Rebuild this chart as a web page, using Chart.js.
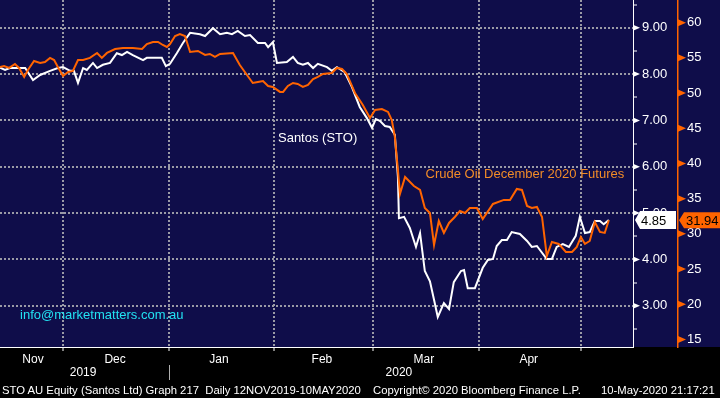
<!DOCTYPE html>
<html>
<head>
<meta charset="utf-8">
<title>STO vs Crude Oil Dec 2020</title>
<script src="https://cdn.jsdelivr.net/npm/chart.js@4.4.1/dist/chart.umd.min.js"></script>
<style>
  body { margin: 0; background: #000; }
  #wrap { position: relative; width: 720px; height: 398px; overflow: hidden; }
  #foot { position: absolute; left: 0; top: 383px; width: 720px; height: 15px; font: 11.3px 'Liberation Sans', Arial, sans-serif; line-height: 14px; color: #fff; white-space: pre; }
  #foot span { position: absolute; top: 0; }
</style>
</head>
<body>
<div id="wrap">
  <canvas id="sto_chart" width="720" height="398"></canvas>
  <div id="foot"><span style="left:2px">STO AU Equity (Santos Ltd) Graph 217  Daily 12NOV2019-10MAY2020</span><span style="left:373px">Copyright© 2020 Bloomberg Finance L.P.</span><span style="left:601px">10-May-2020 21:17:21</span></div>
</div>
<script>
// x값 = 2019-11-12 기준 경과일
const stoDays = [
  0.5, 2.0, 3.4, 6.4, 7.9, 10.2, 12.3, 15.2, 17.5, 19.0,
  21.1, 22.2, 23.4, 24.9, 26.0, 27.8, 29.0, 30.7, 32.8, 34.8,
  36.3, 37.8, 39.5, 42.5, 43.6, 48.0, 49.2, 50.4, 52.4, 54.2,
  56.3, 59.2, 60.7, 63.0, 65.1, 67.1, 68.6, 70.3, 72.4, 73.9,
  76.2, 78.3, 79.2, 80.6, 81.8, 84.7, 86.5, 87.9, 89.4, 90.9,
  92.4, 93.8, 96.5, 97.9, 99.4, 101.7, 103.8, 106.1, 108.2, 109.7,
  110.8, 112.0, 113.5, 114.9, 116.4, 117.3, 117.6, 119.1, 120.8, 122.6,
  123.8, 125.2, 126.7, 127.9, 129.0, 130.8, 132.3, 133.7, 135.8, 136.7,
  137.8, 139.9, 142.2, 143.7, 145.2, 146.3, 147.8, 149.3, 150.7, 153.1,
  155.2, 156.6, 158.1, 161.0, 162.5, 163.9, 165.7, 167.5, 169.5, 170.7,
  172.2, 173.6, 175.1, 176.6, 177.7, 179.2
];
const stoPrices = [
  8.14, 8.09, 8.13, 8.13, 8.13, 7.87, 7.98, 8.07, 8.13, 8.15,
  8.07, 8.07, 7.81, 8.13, 8.09, 8.24, 8.13, 8.20, 8.24, 8.45,
  8.41, 8.48, 8.41, 8.30, 8.35, 8.35, 8.17, 8.22, 8.45, 8.67,
  8.89, 8.86, 8.82, 8.99, 8.86, 8.89, 8.86, 8.93, 8.82, 8.84,
  8.67, 8.67, 8.58, 8.69, 8.24, 8.26, 8.37, 8.24, 8.20, 8.24,
  8.13, 8.22, 8.15, 8.07, 8.15, 8.04, 7.72, 7.29, 7.05, 6.84,
  7.03, 6.99, 6.88, 6.86, 6.69, 5.78, 4.89, 4.92, 4.68, 4.27,
  4.57, 3.75, 3.53, 3.13, 2.76, 3.06, 2.93, 3.51, 3.75, 3.77,
  3.38, 3.38, 3.82, 3.99, 4.01, 4.29, 4.42, 4.42, 4.59, 4.55,
  4.40, 4.27, 4.29, 4.01, 4.01, 4.27, 4.33, 4.27, 4.51, 4.92,
  4.57, 4.59, 4.83, 4.83, 4.76, 4.85
];
const oilDays = [
  0.5, 1.7, 3.2, 4.9, 6.1, 7.6, 8.7, 10.5, 12.3, 13.7,
  15.2, 16.4, 17.5, 19.0, 20.5, 21.9, 23.4, 24.9, 26.9, 29.0,
  30.4, 31.9, 34.3, 36.6, 39.5, 42.2, 43.6, 45.4, 46.9, 48.3,
  49.5, 50.4, 51.9, 53.3, 54.8, 56.3, 58.6, 60.7, 62.1, 63.6,
  65.1, 68.9, 70.9, 73.0, 74.7, 76.2, 77.7, 79.2, 80.6, 82.7,
  83.6, 85.0, 86.5, 87.9, 89.4, 90.9, 92.4, 93.8, 95.3, 97.9,
  99.4, 100.9, 102.3, 104.7, 107.0, 109.1, 110.6, 112.6, 114.4, 115.5,
  116.4, 117.3, 117.9, 119.4, 122.0, 123.8, 125.2, 126.7, 127.9, 129.3,
  130.8, 132.3, 134.0, 135.5, 137.0, 138.4, 140.5, 142.2, 145.2, 148.4,
  150.2, 152.2, 153.7, 155.2, 156.6, 158.1, 159.6, 161.0, 162.5, 164.5,
  166.6, 168.4, 169.8, 171.0, 172.2, 173.6, 175.1, 176.6, 178.0, 179.2
];
const oilPrices = [
  53.71, 53.85, 53.57, 54.13, 53.57, 52.29, 53.28, 54.56, 54.28, 54.42,
  54.99, 54.70, 53.71, 52.43, 53.00, 53.14, 54.70, 54.70, 54.99, 55.70,
  54.99, 55.70, 56.26, 56.41, 56.41, 56.26, 56.97, 57.26, 57.26, 56.83,
  56.55, 56.97, 58.11, 58.39, 58.11, 55.84, 55.98, 55.41, 55.55, 55.13,
  55.55, 55.70, 53.99, 52.57, 51.43, 51.58, 51.72, 51.01, 50.87, 50.16,
  50.16, 51.01, 51.43, 51.29, 50.87, 51.15, 52.00, 52.29, 52.71, 52.86,
  53.57, 53.42, 52.71, 50.01, 48.31, 46.46, 47.60, 47.74, 47.32, 46.18,
  43.77, 39.08, 35.67, 38.08, 36.80, 36.24, 33.68, 32.97, 28.42, 31.83,
  30.13, 31.55, 32.40, 33.25, 32.97, 33.68, 33.68, 32.12, 34.25, 34.82,
  34.82, 36.38, 36.24, 33.97, 33.68, 33.82, 32.40, 26.86, 28.85, 28.57,
  27.43, 27.43, 28.14, 29.56, 28.57, 28.99, 31.69, 30.27, 30.13, 31.94
];
const monthNames = ['Nov', 'Dec', 'Jan', 'Feb', 'Mar', 'Apr'];
const monthMids = [10.2, 34.3, 64.8, 95.0, 124.9, 155.7];
const monthStarts = [19, 50, 81, 110, 141, 171];
const yearNames = ['2019', '2020'];
const yearPos = [24.9, 117.6];

const NAVY = '#0f0d4a';
const ORANGE = '#ff6400';
const GREY = '#9a9aa6';
const FONT = "'Liberation Sans', Arial, sans-serif";

const isInt = (v) => Math.abs(v - Math.round(v)) < 1e-6;

// 태그 박스 (마지막 값)
function drawTag(ctx, tip, right, yc, h, fill, text, textX) {
    ctx.beginPath();
    ctx.moveTo(tip, yc);
    ctx.lineTo(tip + 5, yc - h / 2);
    ctx.lineTo(right, yc - h / 2);
    ctx.lineTo(right, yc + h / 2);
    ctx.lineTo(tip + 5, yc + h / 2);
    ctx.closePath();
    ctx.fillStyle = fill;
    ctx.fill();
    ctx.fillStyle = '#000';
    ctx.font = '13px ' + FONT;
    ctx.textAlign = 'left';
    ctx.textBaseline = 'middle';
    ctx.fillText(text, textX, yc + 1);
}

const bbgPlugin = {
    id: 'bbg',
    beforeDraw(chart) {
        const {ctx, chartArea} = chart;
        ctx.save();
        ctx.fillStyle = '#000';
        ctx.fillRect(0, 0, chart.width, chart.height);
        ctx.fillStyle = NAVY;
        ctx.fillRect(0, 0, chart.width, chartArea.bottom);
        ctx.restore();
    },
    afterDraw(chart) {
        const {ctx, chartArea, scales: {x, y, y1}} = chart;
        ctx.save();
        // 축 삼각형
        y.ticks.forEach((t) => {
            if (!isInt(t.value)) return;
            const py = y.getPixelForValue(t.value);
            ctx.fillStyle = '#fff';
            ctx.beginPath();
            ctx.moveTo(y.left, py - 3);
            ctx.lineTo(y.left + 7, py);
            ctx.lineTo(y.left, py + 3);
            ctx.fill();
        });
        y1.ticks.forEach((t) => {
            if (t.value % 5 !== 0) return;
            const py = y1.getPixelForValue(t.value);
            ctx.fillStyle = ORANGE;
            ctx.beginPath();
            ctx.moveTo(y1.left, py - 3.5);
            ctx.lineTo(y1.left + 8, py);
            ctx.lineTo(y1.left, py + 3.5);
            ctx.fill();
        });
        // 마지막 값
        const lastSto = stoPrices[stoPrices.length - 1];
        const lastOil = oilPrices[oilPrices.length - 1];
        drawTag(ctx, y.left + 2, y.right - 2, y.getPixelForValue(lastSto), 18, '#fff', lastSto.toFixed(2), y.left + 8);
        drawTag(ctx, y1.left + 1, chart.width, y1.getPixelForValue(lastOil), 16, ORANGE, lastOil.toFixed(2), y1.left + 8);

        // 연도 라벨
        ctx.font = '12px ' + FONT;
        ctx.fillStyle = '#fff';
        ctx.textAlign = 'center';
        ctx.textBaseline = 'middle';
        yearNames.forEach((n, i) => ctx.fillText(n, x.getPixelForValue(yearPos[i]), chartArea.bottom + 26));
        const sep = Math.round(x.getPixelForValue(monthStarts[1])) + 0.5;
        ctx.strokeStyle = '#b0b0b0';
        ctx.lineWidth = 1;
        ctx.beginPath();
        ctx.moveTo(sep, chartArea.bottom + 18);
        ctx.lineTo(sep, chartArea.bottom + 33);
        ctx.stroke();

        // 차트 안 라벨
        ctx.font = '13px ' + FONT;
        ctx.textAlign = 'left';
        ctx.fillStyle = '#fff';
        ctx.fillText('Santos (STO)', x.getPixelForValue(82.1), y.getPixelForValue(6.62));
        ctx.fillStyle = '#f28c28';
        ctx.fillText('Crude Oil December 2020 Futures', x.getPixelForValue(125.4), y1.getPixelForValue(38.5));
        ctx.fillStyle = '#22e2f2';
        ctx.fillText('info@marketmatters.com.au', x.getPixelForValue(6.4), y.getPixelForValue(2.79));
        ctx.restore();
    }
};

const ctx = document.getElementById('sto_chart');
const myChart = new Chart(ctx, {
    type: 'line',
    data: {
        datasets: [{
            label: 'Crude Oil December 2020 Futures',
            data: oilDays.map((d, i) => ({x: d, y: oilPrices[i]})),
            yAxisID: 'y1',
            borderColor: ORANGE,
            borderWidth: 2,
            pointRadius: 0,
            tension: 0,
            order: 0
        }, {
            label: 'Santos (STO)',
            data: stoDays.map((d, i) => ({x: d, y: stoPrices[i]})),
            yAxisID: 'y',
            borderColor: '#ffffff',
            borderWidth: 2,
            pointRadius: 0,
            tension: 0,
            order: 1
        }]
    },
    options: {
        responsive: false,
        animation: false,
        devicePixelRatio: 1,
        layout: {padding: 0},
        plugins: {legend: {display: false}, tooltip: {enabled: false}},
        scales: {
            x: {
                type: 'linear',
                position: 'bottom',
                min: 0.51,
                max: 186.3,
                afterBuildTicks: (s) => {
                    s.ticks = monthStarts.concat(monthMids).sort((a, b) => a - b).map((v) => ({value: v}));
                },
                afterFit: (s) => { s.height = 51; s.paddingLeft = 0; s.paddingRight = 0; },
                ticks: {
                    autoSkip: false,
                    maxRotation: 0,
                    padding: 1,
                    color: '#fff',
                    font: {family: FONT, size: 12},
                    callback: (v) => {
                        const i = monthMids.indexOf(v);
                        return i >= 0 ? monthNames[i] : '';
                    }
                },
                grid: {
                    color: (c) => (c.tick && monthStarts.includes(c.tick.value)) ? GREY : 'transparent',
                    lineWidth: 2,
                    tickLength: 4,
                    tickWidth: 1,
                    tickColor: (c) => (c.tick && monthStarts.includes(c.tick.value)) ? '#fff' : 'transparent'
                },
                border: {color: '#fff', width: 1, dash: [2, 2]}
            },
            y: {
                type: 'linear',
                position: 'right',
                weight: 0,
                min: 2.111,
                max: 9.598,
                afterBuildTicks: (s) => {
                    let t = [];
                    for (let i = 5; i <= 19; i++) t.push({value: i / 2});
                    s.ticks = t;
                },
                afterFit: (s) => { s.width = 45; s.paddingTop = 0; s.paddingBottom = 0; },
                ticks: {
                    color: '#fff',
                    padding: 5,
                    font: {family: FONT, size: 13},
                    callback: (v) => isInt(v) ? v.toFixed(2) : ''
                },
                grid: {
                    color: (c) => (c.tick && isInt(c.tick.value)) ? GREY : 'transparent',
                    lineWidth: 2,
                    tickLength: 4,
                    tickWidth: 1,
                    tickColor: (c) => (c.tick && !isInt(c.tick.value)) ? '#fff' : 'transparent'
                },
                border: {color: '#fff', width: 1, dash: [2, 2]}
            },
            y1: {
                type: 'linear',
                position: 'right',
                weight: 1,
                min: 13.93,
                max: 63.22,
                afterBuildTicks: (s) => {
                    let t = [];
                    for (let i = 6; i <= 25; i++) t.push({value: i * 2.5});
                    s.ticks = t;
                },
                afterFit: (s) => { s.width = 42; s.paddingTop = 0; s.paddingBottom = 0; },
                ticks: {
                    color: '#fff',
                    padding: 5,
                    font: {family: FONT, size: 13},
                    callback: (v) => v % 5 === 0 ? String(v) : ''
                },
                grid: {
                    drawOnChartArea: false,
                    tickLength: 4,
                    tickWidth: 1.5,
                    tickColor: (c) => (c.tick && c.tick.value % 5 !== 0) ? ORANGE : 'transparent'
                },
                border: {color: ORANGE, width: 1.5}
            }
        }
    },
    plugins: [bbgPlugin]
});
</script>
</body>
</html>
